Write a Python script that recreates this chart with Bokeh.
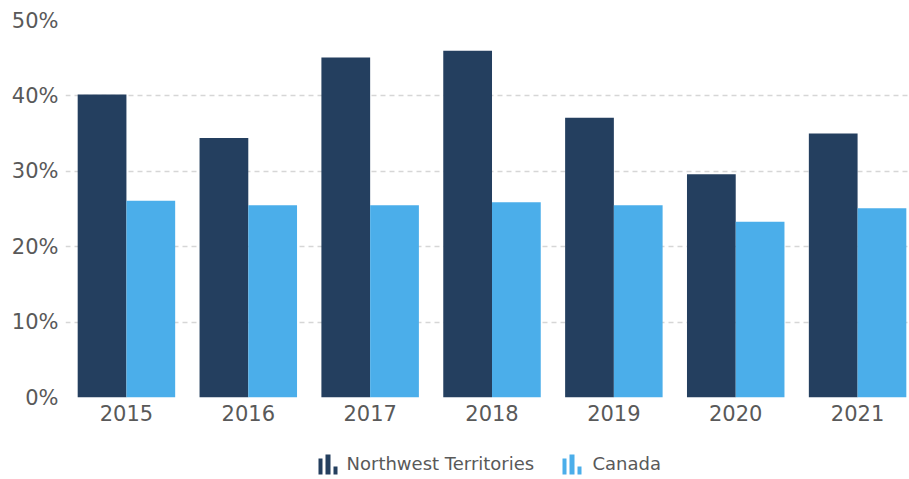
from bokeh.plotting import figure
from bokeh.models import ColumnDataSource, Range1d, FixedTicker
from bokeh.core.properties import value
from bokeh.layouts import column
from bokeh.transform import dodge
from bokeh.embed import file_html
from bokeh.resources import INLINE

years = ["2015", "2016", "2017", "2018", "2019", "2020", "2021"]
nwt = [40.2, 34.4, 45.1, 46.0, 37.1, 29.6, 35.0]
canada = [26.1, 25.5, 25.5, 25.9, 25.5, 23.3, 25.1]
series_names = ["Northwest Territories", "Canada"]
colors = ["#243F5F", "#4BAEEA"]
y_ticks = [0, 10, 20, 30, 40, 50]

src = ColumnDataSource(dict(x=list(range(len(years))), nwt=nwt, canada=canada))

FONT = "DejaVu Sans"
TXT = "#595959"

p = figure(width=909, height=440, output_backend="svg", toolbar_location=None,
           x_range=Range1d(-0.5, 6.426), y_range=Range1d(0, 50),
           min_border_left=65, min_border_right=0, min_border_top=20, min_border_bottom=43)
p.outline_line_color = None
p.background_fill_color = "white"
p.border_fill_color = "white"

p.vbar(x=dodge("x", -0.2, range=p.x_range), top="nwt", width=0.4, source=src,
       color=colors[0], line_color=None)
p.vbar(x=dodge("x", 0.2, range=p.x_range), top="canada", width=0.4, source=src,
       color=colors[1], line_color=None)

p.xgrid.grid_line_color = None
p.ygrid.grid_line_color = "#d6d6d6"
p.ygrid.grid_line_dash = "5 4"
p.ygrid.grid_line_width = 1.5
p.ygrid.ticker = FixedTicker(ticks=y_ticks)

p.yaxis.ticker = FixedTicker(ticks=y_ticks)
p.yaxis.major_label_overrides = {t: f"{t}%" for t in y_ticks}
p.xaxis.ticker = FixedTicker(ticks=list(range(len(years))))
p.xaxis.major_label_overrides = {i: y for i, y in enumerate(years)}

for ax in (p.xaxis, p.yaxis):
    ax.axis_line_color = None
    ax.major_tick_line_color = None
    ax.minor_tick_line_color = None
    ax.major_tick_in = 0
    ax.major_tick_out = 0
    ax.major_label_text_font = FONT
    ax.major_label_text_font_size = "21px"
    ax.major_label_text_color = TXT
p.yaxis.major_label_standoff = 7
p.xaxis.major_label_standoff = 7

# legend strip below the chart (screen-pixel coordinates, y up);
# its frame is aligned with the chart frame, which starts at x=65
lg = figure(width=909, height=39, output_backend="svg", toolbar_location=None,
            x_range=Range1d(65, 909), y_range=Range1d(0, 39),
            min_border_left=65, min_border_right=0, min_border_top=0, min_border_bottom=0)
lg.outline_line_color = None
lg.axis.visible = False
lg.grid.visible = False
lg.background_fill_color = "white"
lg.border_fill_color = "white"

icon_starts = [318, 562]   # left edge of each legend icon
label_x = [346, 592]
bar_offsets = [(0, 4, 21), (7, 12, 25), (15, 19, 13)]  # icon bars: left, right, top
for start, col in zip(icon_starts, colors):
    lg.quad(left=[start + a for a, b, t in bar_offsets],
            right=[start + b for a, b, t in bar_offsets],
            top=[t for a, b, t in bar_offsets], bottom=[5] * 3,
            color=col, line_color=None)
lg.text(x=label_x, y=[16, 16], text=series_names, text_font=value(FONT),
        text_font_size="18px", text_color=TXT, text_baseline="middle", text_align="left")

layout = column(p, lg, spacing=0)
open("out.html", "w").write(file_html(layout, INLINE))
